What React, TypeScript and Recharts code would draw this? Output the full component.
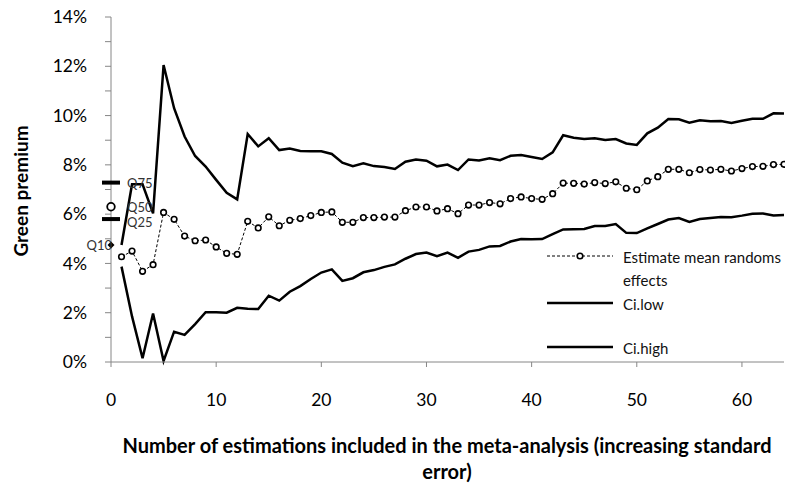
import React from "react"
import { ComposedChart, Line, Scatter, XAxis, YAxis, Legend } from "recharts"

// values in percent, estimation count 1..64
const meanEstimate = [
  4.27, 4.5, 3.68, 3.95, 6.07, 5.79, 5.11, 4.92, 4.95, 4.67, 4.41, 4.37, 5.71, 5.44, 5.89, 5.53,
  5.75, 5.82, 5.94, 6.07, 6.09, 5.67, 5.67, 5.86, 5.86, 5.88, 5.88, 6.14, 6.29, 6.29, 6.13, 6.22,
  6.02, 6.37, 6.37, 6.47, 6.42, 6.63, 6.7, 6.63, 6.6, 6.83, 7.26, 7.25, 7.22, 7.28, 7.24, 7.31,
  7.05, 6.99, 7.35, 7.52, 7.82, 7.82, 7.68, 7.81, 7.79, 7.82, 7.75, 7.85, 7.93, 7.94, 8.01, 8.02,
]

const ciLow = [
  3.87, 1.85, 0.15, 1.97, 0.04, 1.23, 1.1, 1.54, 2.02, 2.02, 2.0, 2.2, 2.16, 2.15, 2.69, 2.49,
  2.85, 3.08, 3.37, 3.63, 3.76, 3.29, 3.4, 3.64, 3.73, 3.86, 3.96, 4.19, 4.38, 4.44, 4.29, 4.44,
  4.23, 4.48, 4.55, 4.69, 4.71, 4.89, 4.99, 4.98, 4.99, 5.19, 5.38, 5.39, 5.4, 5.52, 5.52, 5.6,
  5.24, 5.23, 5.42, 5.6, 5.78, 5.84, 5.68, 5.8, 5.84, 5.88, 5.87, 5.94, 6.02, 6.03, 5.95, 5.97,
]

const ciHigh = [
  4.75, 7.21, 7.21, 6.03, 12.05, 10.3, 9.15, 8.36, 7.93, 7.39, 6.87, 6.6, 9.25, 8.75, 9.08, 8.6,
  8.66, 8.56, 8.55, 8.55, 8.44, 8.09, 7.95, 8.06, 7.95, 7.91, 7.83, 8.13, 8.22, 8.17, 7.94, 8.01,
  7.79, 8.22, 8.18, 8.27, 8.19, 8.37, 8.4, 8.32, 8.24, 8.51, 9.2, 9.1, 9.05, 9.08, 9.01, 9.05,
  8.87, 8.81, 9.28, 9.51, 9.86, 9.85, 9.71, 9.81, 9.77, 9.78, 9.7, 9.79, 9.87, 9.87, 10.09, 10.08,
]

const quantileLabels = ["Q10", "Q25", "Q50", "Q75"]
const quantileValues = [4.75, 5.8, 6.3, 7.28]

const xTicks = [0, 10, 20, 30, 40, 50, 60]
const yTicks = [0, 1, 2, 3, 4, 5, 6, 7, 8, 9, 10, 11, 12, 13, 14]

const FONT = "Lato, 'Open Sans', sans-serif"

const data = meanEstimate.map((v, i) => ({
  n: i + 1,
  mean: v,
  ciLow: ciLow[i],
  ciHigh: ciHigh[i],
}))

const quantiles = quantileLabels.map((q, i) => ({ n: 0, v: quantileValues[i], label: q }))

// small nudges so the Q50 / Q25 labels sit like the original
const labelShift: Record<string, number> = { Q75: 0, Q50: 0, Q25: 3 }

function QuantileMark(props: any) {
  const { cx, cy, payload } = props
  const label = payload.label
  const textStyle = { fontFamily: FONT, fontSize: 13, fill: "#333" }
  if (label === "Q10") {
    return (
      <g>
        <path d={`M${cx},${cy - 3.5} L${cx + 3.5},${cy} L${cx},${cy + 3.5} L${cx - 3.5},${cy} Z`} fill="#000" />
        <text x={cx + 1} y={cy} textAnchor="end" dominantBaseline="central" style={textStyle}>
          {label}
        </text>
      </g>
    )
  }
  return (
    <g>
      {label === "Q50" ? (
        <circle cx={cx} cy={cy} r={3.8} fill="#fff" stroke="#000" strokeWidth={1.8} />
      ) : (
        <rect x={cx - 9} y={cy - 2} width={18} height={4} fill="#000" />
      )}
      <text x={cx + 16} y={cy + labelShift[label]} dominantBaseline="central" style={textStyle}>
        {label}
      </text>
    </g>
  )
}

function ChartLegend() {
  const t = { fontFamily: FONT, fontSize: 15, fill: "#111" }
  return (
    <svg width={245} height={120}>
      <line x1={7} y1={16} x2={73} y2={16} stroke="#000" strokeWidth={1} strokeDasharray="3 2" />
      <circle cx={40} cy={16} r={2.8} fill="#fff" stroke="#000" strokeWidth={1.6} />
      <text x={83} y={17} dominantBaseline="central" style={t}>Estimate mean randoms</text>
      <text x={83} y={40} dominantBaseline="central" style={t}>effects</text>
      <line x1={7} y1={63} x2={73} y2={63} stroke="#000" strokeWidth={2.5} />
      <text x={83} y={64} dominantBaseline="central" style={t}>Ci.low</text>
      <line x1={7} y1={107} x2={73} y2={107} stroke="#000" strokeWidth={2.5} />
      <text x={83} y={108} dominantBaseline="central" style={t}>Ci.high</text>
    </svg>
  )
}

export default function App() {
  return (
    <div style={{ position: "absolute", left: 0, top: 0, background: "#fff" }}>
      <ComposedChart width={785} height={484} data={data} margin={{ top: 17, right: 1, bottom: 0, left: 0 }}>
        <XAxis
          type="number"
          dataKey="n"
          domain={[0, 64]}
          ticks={xTicks}
          interval={0}
          stroke="#868686"
          tickSize={5}
          tickMargin={27}
          height={122}
          tick={{ fill: "#000", fontSize: 17.5, fontFamily: FONT }}
          label={{
            content: () => (
              <text textAnchor="middle" dominantBaseline="central" style={{ fontFamily: FONT, fontSize: 20, fontWeight: 700, fill: "#000" }}>
                <tspan x={447} y={445}>Number of estimations included in the meta-analysis (increasing standard</tspan>
                <tspan x={447} y={471}>error)</tspan>
              </text>
            ),
          }}
        />
        <YAxis
          type="number"
          domain={[0, 14]}
          ticks={yTicks}
          interval={0}
          width={111}
          stroke="#868686"
          tickSize={6}
          tickMargin={18}
          tickFormatter={(v: number) => (v % 2 === 0 ? `${v}%` : "")}
          tick={{ fill: "#000", fontSize: 17.5, fontFamily: FONT }}
          label={{
            content: () => (
              <text
                x={20}
                y={191}
                transform="rotate(-90 20 191)"
                textAnchor="middle"
                dominantBaseline="central"
                style={{ fontFamily: FONT, fontSize: 19, fontWeight: 700, fill: "#000" }}
              >
                Green premium
              </text>
            ),
          }}
        />
        <Legend
          verticalAlign="middle"
          layout="horizontal"
          content={() => <ChartLegend />}
          wrapperStyle={{ left: 540, top: 240, width: 245, height: 120 }}
        />
        <Line type="linear" dataKey="ciHigh" name="Ci.high" stroke="#000" strokeWidth={2.5} dot={false} isAnimationActive={false} />
        <Line type="linear" dataKey="ciLow" name="Ci.low" stroke="#000" strokeWidth={2.5} dot={false} isAnimationActive={false} />
        <Line
          type="linear"
          dataKey="mean"
          name="Estimate mean randoms effects"
          stroke="#000"
          strokeWidth={1}
          strokeDasharray="3 2"
          dot={{ r: 2.8, stroke: "#000", strokeWidth: 1.6, fill: "#fff", strokeDasharray: "" }}
          isAnimationActive={false}
        />
        <Scatter data={quantiles} dataKey="v" shape={QuantileMark} isAnimationActive={false} />
      </ComposedChart>
    </div>
  )
}
